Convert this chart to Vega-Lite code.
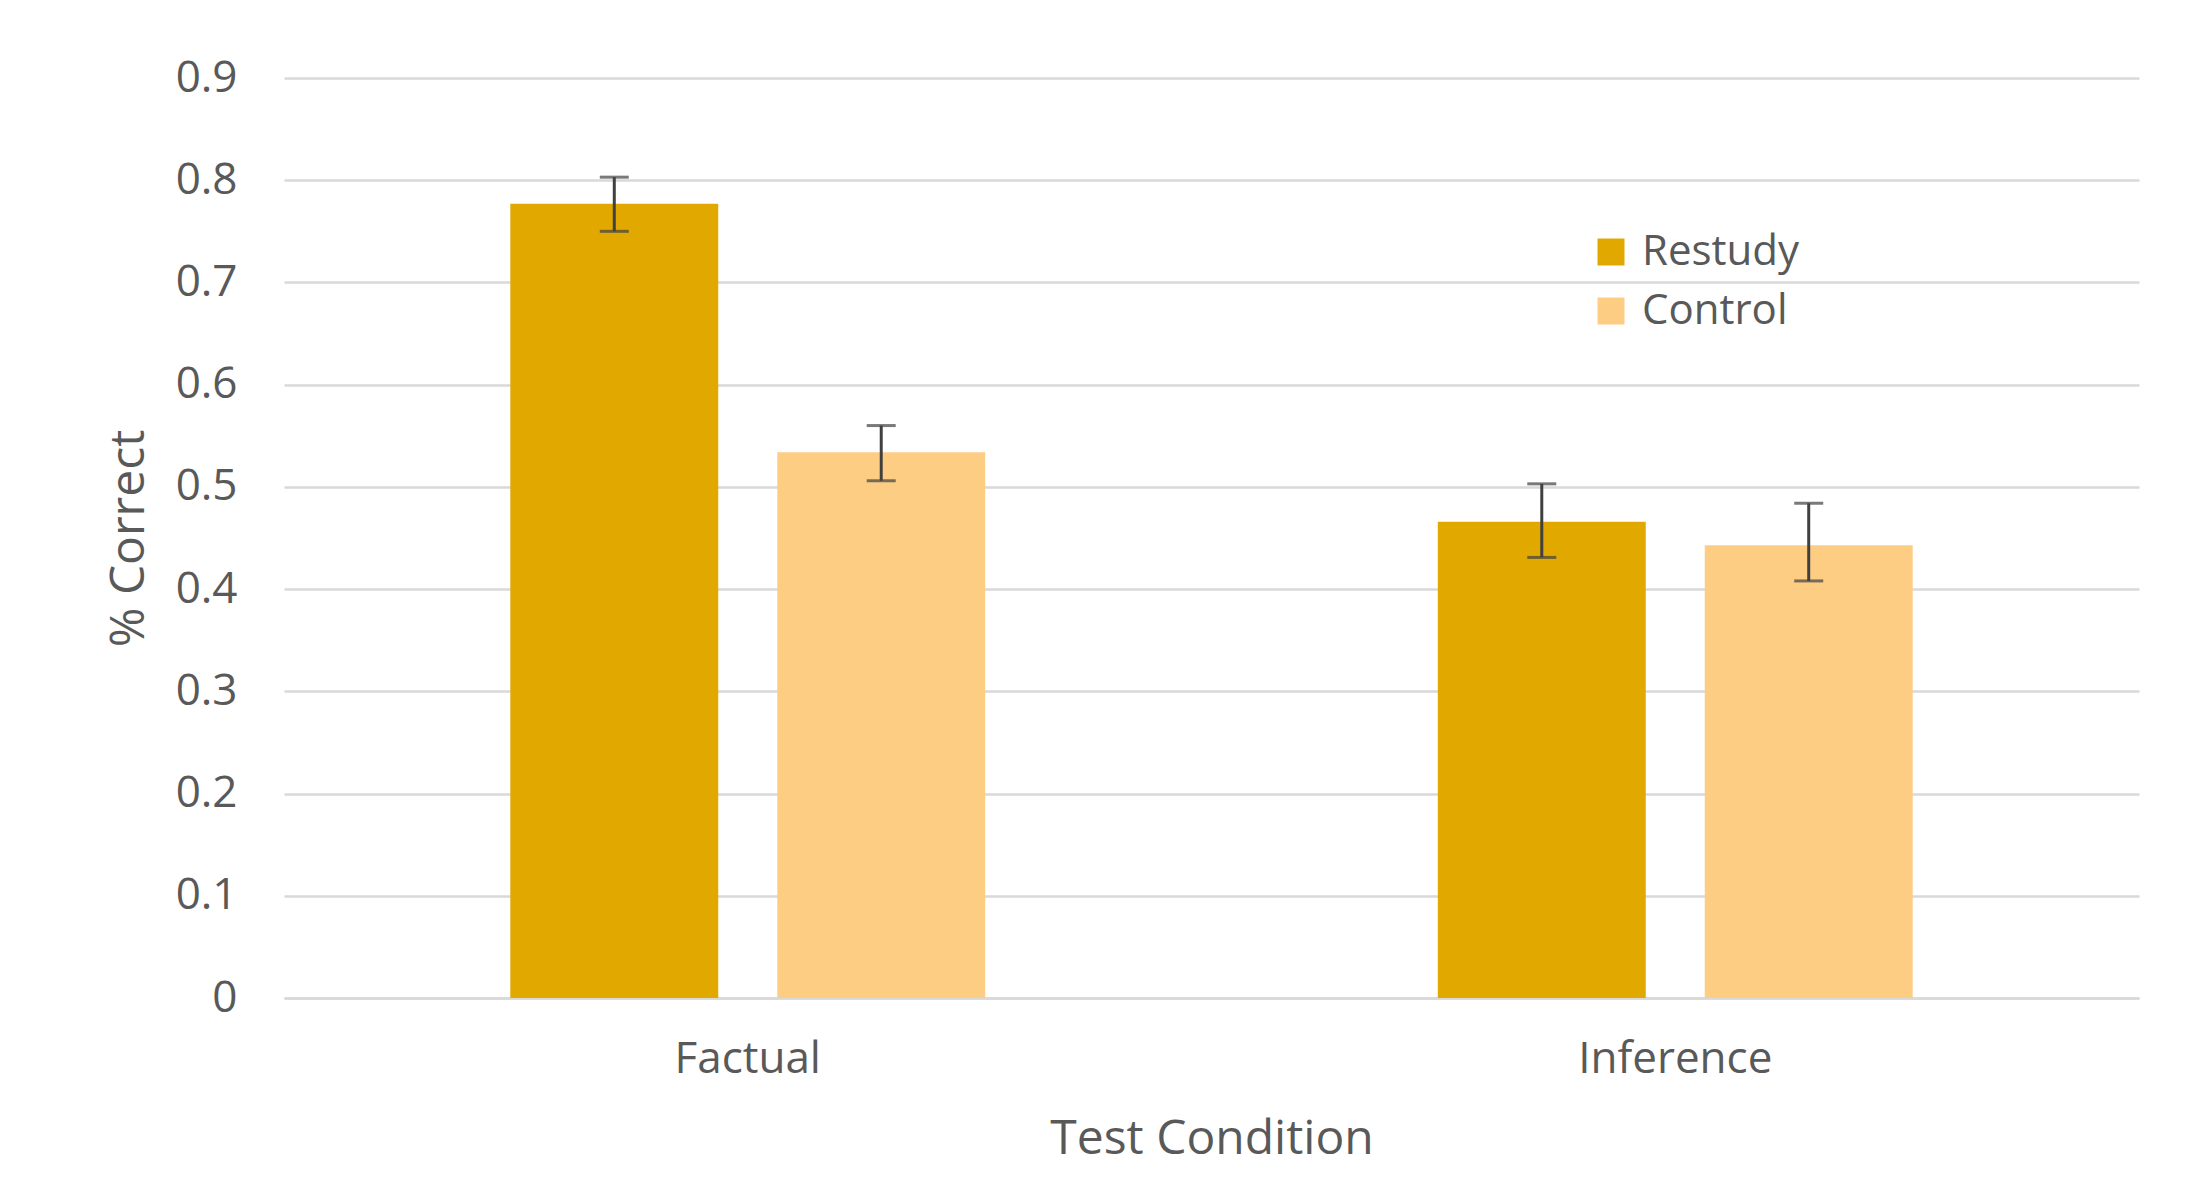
{
  "$schema": "https://vega.github.io/schema/vega-lite/v6.json",
  "width": 1855,
  "height": 920,
  "autosize": "none",
  "padding": {"left": 284, "top": 78, "right": 58, "bottom": 192},
  "background": "#ffffff",
  "config": {
    "font": "Open Sans",
    "view": {"stroke": null},
    "axis": {
      "labelColor": "#595959",
      "titleColor": "#595959",
      "labelFontSize": 44,
      "titleFontSize": 48,
      "titleFontWeight": "normal",
      "labelLimit": 0,
      "ticks": false,
      "gridColor": "#d9d9d9",
      "gridWidth": 2.5
    }
  },
  "data": {
    "values": [
      {"condition": "Factual", "group": "Restudy", "mean": 0.777, "lo": 0.750, "hi": 0.803},
      {"condition": "Factual", "group": "Control", "mean": 0.534, "lo": 0.506, "hi": 0.560},
      {"condition": "Inference", "group": "Restudy", "mean": 0.466, "lo": 0.431, "hi": 0.503},
      {"condition": "Inference", "group": "Control", "mean": 0.443, "lo": 0.408, "hi": 0.484}
    ]
  },
  "encoding": {
    "x": {
      "field": "condition",
      "type": "nominal",
      "sort": ["Factual", "Inference"],
      "scale": {"paddingInner": 0.488, "paddingOuter": 0.244},
      "axis": {
        "title": "Test Condition",
        "labelAngle": 0,
        "labelPadding": 39,
        "titlePadding": 34,
        "domainColor": "#d9d9d9",
        "domainWidth": 2.5,
        "grid": false
      }
    },
    "xOffset": {
      "field": "group",
      "type": "nominal",
      "sort": ["Restudy", "Control"],
      "scale": {"paddingInner": 0.221, "paddingOuter": 0}
    }
  },
  "layer": [
    {
      "mark": {"type": "bar"},
      "encoding": {
        "y": {
          "field": "mean",
          "type": "quantitative",
          "scale": {"domain": [0, 0.9], "nice": false},
          "axis": {
            "title": "% Correct",
            "values": [0, 0.1, 0.2, 0.3, 0.4, 0.5, 0.6, 0.7, 0.8, 0.9],
            "format": "~g",
            "labelPadding": 47,
            "titlePadding": 22,
            "domain": false,
            "grid": true
          }
        },
        "color": {
          "field": "group",
          "type": "nominal",
          "sort": ["Restudy", "Control"],
          "scale": {"domain": ["Restudy", "Control"], "range": ["#E1A900", "#FECD84"]},
          "legend": {
            "title": null,
            "orient": "none",
            "legendX": 1306,
            "legendY": 153,
            "padding": 0,
            "symbolType": "square",
            "symbolSize": 729,
            "symbolStrokeWidth": 0,
            "labelFontSize": 42,
            "labelColor": "#595959",
            "labelOffset": 10,
            "rowPadding": 17
          }
        }
      }
    },
    {
      "mark": {"type": "rule", "color": "#404040", "strokeWidth": 3},
      "encoding": {
        "y": {"field": "lo", "type": "quantitative"},
        "y2": {"field": "hi"}
      }
    },
    {
      "mark": {"type": "tick", "color": "#404040", "size": 29, "thickness": 3},
      "encoding": {
        "y": {"field": "lo", "type": "quantitative"}
      }
    },
    {
      "mark": {"type": "tick", "color": "#404040", "size": 29, "thickness": 3},
      "encoding": {
        "y": {"field": "hi", "type": "quantitative"}
      }
    }
  ]
}
